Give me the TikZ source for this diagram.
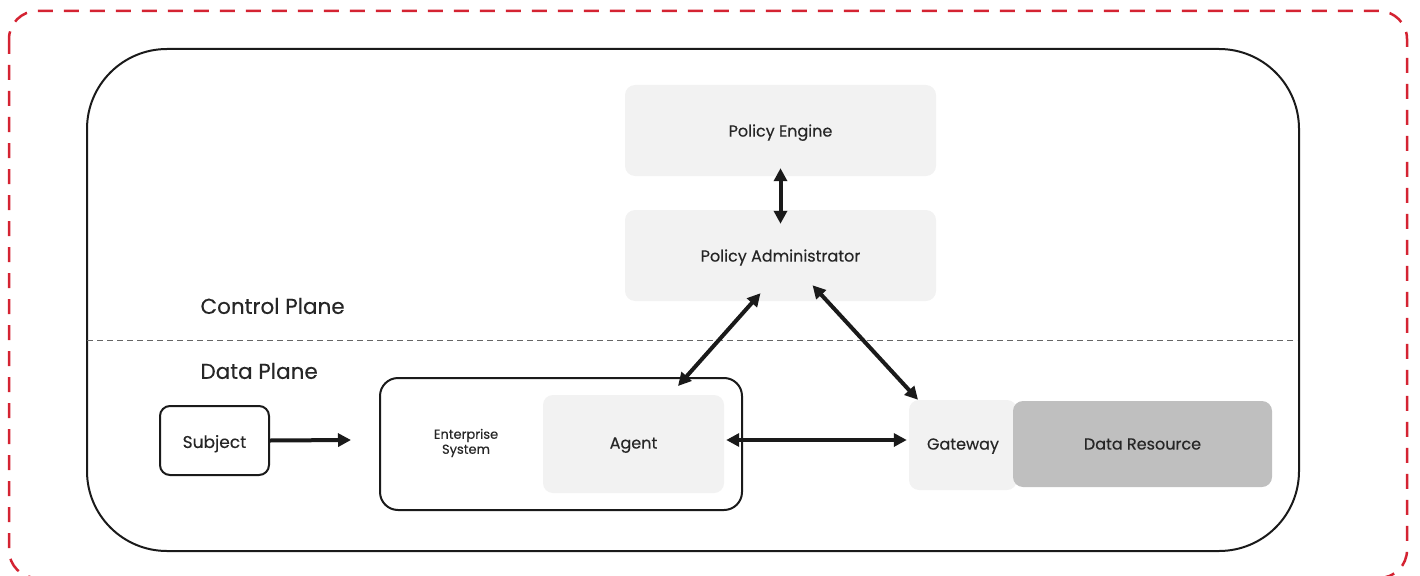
\documentclass[tikz,border=0pt]{standalone}
\usepackage{fontspec}
\setmainfont{Poppins}[FakeBold=0.3]
\usetikzlibrary{arrows.meta,calc}
\definecolor{frame}{HTML}{D42332}
\definecolor{ink}{HTML}{1A1A1A}
\definecolor{txt}{HTML}{262626}
\definecolor{panel}{HTML}{F2F2F2}
\definecolor{store}{HTML}{BFBFBF}
\begin{document}
\begin{tikzpicture}[x=1pt,y=-1pt,
  boxtext/.style={text=txt,font=\fontsize{16}{19}\selectfont,text depth=0pt},
  softbox/.style={boxtext,fill=panel,draw=none,rounded corners=10pt},
  linebox/.style={boxtext,draw=ink,line width=2pt,fill=white},
  link/.style={ink,line width=4pt,{Triangle[length=13pt,width=13pt]}-{Triangle[length=13pt,width=13pt]}},
  onelink/.style={ink,line width=4pt,-{Triangle[length=13pt,width=13pt]}},
  plane/.style={text=txt,font=\fontsize{21.5}{25}\selectfont,anchor=west}]
\useasboundingbox (0,0) rectangle (1420,575);
\clip (0,0) rectangle (1420,575);

% outer boundary
\draw[frame,line width=2.5pt,dash pattern=on 15pt off 11pt,rounded corners=28pt]
  (9,11) rectangle (1407,578);
% enterprise boundary
\draw[ink,line width=2pt,rounded corners=80pt] (87,49) rectangle (1299,551);

% plane separator
\draw[black!60,line width=1pt,dash pattern=on 6pt off 4pt] (87,340) -- (1297,340);
\node[plane] (cp) at (197,306) {Control Plane};
\node[plane] (dp) at (197,371) {Data Plane};

% control plane components
\node[softbox,minimum width=311pt,minimum height=91pt] (pe) at (780.5,130.5) {Policy Engine};
\node[softbox,minimum width=311pt,minimum height=91pt] (pa) at (780.5,255.5) {Policy Administrator};

% data plane components
\node[linebox,rounded corners=10pt,minimum width=109pt,minimum height=69pt,font=\fontsize{17}{20}\selectfont] (subj) at (214.5,440.5) {\raisebox{-2pt}{Subject}};
\node[linebox,rounded corners=18pt,minimum width=362pt,minimum height=132pt] (es) at (561,444) {};
\node[text=txt,font=\fontsize{13}{15}\selectfont,align=center] (esl) at (466,443) {Enterprise\\System};
\node[softbox,minimum width=181pt,minimum height=98pt] (agent) at (633.5,444) {\raisebox{2pt}{Agent}};
\node[softbox,minimum width=108pt,minimum height=90pt] (gw) at (963,445) {\raisebox{2pt}{Gateway}};
\node[softbox,fill=store,minimum width=259pt,minimum height=86pt] (dr) at (1142.5,444) {Data Resource};

% connectors
\draw[link] ($(pe.south)+(0,-8)$) -- ($(pa.north)+(0,14)$);
\draw[link] ($(es.north)+(117,9)$) -- ($(pa.south)+(-20,-8)$);
\draw[link] ($(pa.south)+(32,-16)$) -- ($(gw.north)+(-45,0)$);
\draw[onelink] (subj.east) -- ($(es.west)+(-28,-4)$);
\draw[link] ($(agent.east)+(2,-4)$) -- ($(gw.west)+(-2,-5)$);
\end{tikzpicture}
\end{document}
